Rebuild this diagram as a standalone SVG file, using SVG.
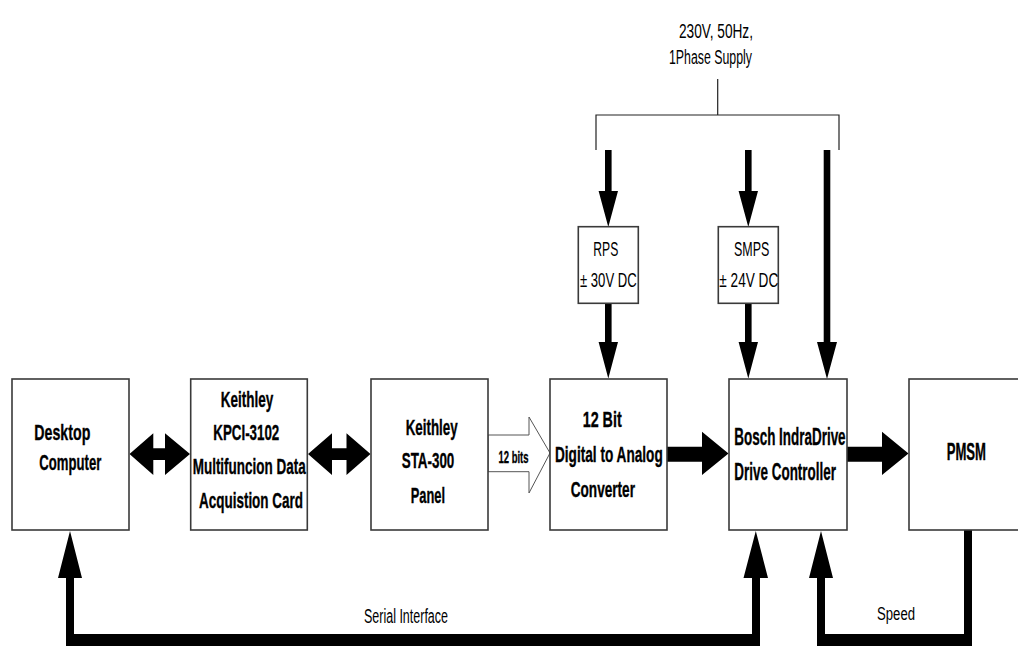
<svg xmlns="http://www.w3.org/2000/svg" width="1018" height="672" viewBox="0 0 1018 672">
  <defs>
    <style>
      .box { fill: #ffffff; stroke: #3a3a3a; stroke-width: 1.6; }
      .lbl { font-family: "Liberation Sans", Arial, sans-serif; font-weight: bold; font-size: 22px; fill: #000; stroke: #000; stroke-width: 0.35; }
      .big { font-size: 23.5px; }
      .thin { font-family: "Liberation Sans", Arial, sans-serif; font-size: 20px; fill: #000; }
      .wire { fill: none; stroke: #222; stroke-width: 1.2; }
      .solid { fill: #000; stroke: none; }
      .hollow { fill: #fff; stroke: #555; stroke-width: 1; }
    </style>
  </defs>
  <rect width="1018" height="672" fill="#ffffff"/>

  <!-- connectors -->
  <g id="connectors">
    <!-- mains supply distribution -->
    <text class="thin" x="679" y="38" textLength="74" lengthAdjust="spacingAndGlyphs">230V, 50Hz,</text>
    <text class="thin" x="669" y="64" textLength="83" lengthAdjust="spacingAndGlyphs">1Phase Supply</text>
    <path class="wire" d="M717.7 79 V115 M596 150 V115 H839 V150"/>

    <!-- supply to RPS and SMPS -->
    <polygon class="solid" points="605,150 611.6,150 611.6,191 618,191 608.3,227 598.6,191 605,191"/>
    <polygon class="solid" points="745,150 751.6,150 751.6,191 758,191 748.3,227 738.6,191 745,191"/>
    <!-- supply straight to drive -->
    <polygon class="solid" points="823.7,150 830.3,150 830.3,342 837,342 827,379 817,342 823.7,342"/>
    <!-- RPS to DAC, SMPS to drive -->
    <polygon class="solid" points="605,303 611.6,303 611.6,342 618,342 608.3,378.5 598.6,342 605,342"/>
    <polygon class="solid" points="745,303 751.6,303 751.6,342 758,342 748.3,378.5 738.6,342 745,342"/>

    <!-- bidirectional links -->
    <polygon class="solid" points="129.5,454 153.3,433.3 153.3,448.3 165,448.3 165,433.3 190,454 165,475 165,460 153.3,460 153.3,475"/>
    <polygon class="solid" points="308,454 332,433.3 332,448.3 346.5,448.3 346.5,433.3 370.5,454 346.5,475 346.5,460 332,460 332,475"/>

    <!-- 12-bit bus -->
    <polygon class="hollow" points="488,435 529,435 529,417 550,453 529,493 529,471.7 488,471.7"/>
    <text class="lbl" x="498.5" y="463" style="font-size:16.5px" textLength="30" lengthAdjust="spacingAndGlyphs">12 bits</text>

    <!-- DAC to drive, drive to motor -->
    <polygon class="solid" points="667,446.7 702,446.7 702,431.7 728.5,453.5 702,475 702,461.7 667,461.7"/>
    <polygon class="solid" points="847,446.7 882,446.7 882,431.7 908.5,453.5 882,475 882,461.7 847,461.7"/>

    <!-- serial interface loop -->
    <polygon class="solid" points="66,646 66,578 58,578 70,531 82,578 74,578 74,634 752,634 752,578 743.5,578 755.8,531 768,578 760,578 760,646"/>
    <text class="thin" x="364" y="623" textLength="84" lengthAdjust="spacingAndGlyphs">Serial Interface</text>

    <!-- speed feedback loop -->
    <polygon class="solid" points="817,646 817,578 809,578 821,531 833,578 825,578 825,634 964,634 964,530 972,530 972,646"/>
    <text class="thin" x="877" y="620" style="font-size:18px" textLength="38" lengthAdjust="spacingAndGlyphs">Speed</text>
  </g>

  <g id="desktop">
    <rect class="box" x="12" y="379" width="117" height="151"/>
    <text class="lbl" x="34.3" y="440" textLength="56" lengthAdjust="spacingAndGlyphs">Desktop</text>
    <text class="lbl" x="39.3" y="470" textLength="62" lengthAdjust="spacingAndGlyphs">Computer</text>
  </g>

  <g id="kpci">
    <rect class="box" x="190.7" y="379" width="116.6" height="151"/>
    <text class="lbl" x="220.7" y="406.7" textLength="52.6" lengthAdjust="spacingAndGlyphs">Keithley</text>
    <text class="lbl" x="213.3" y="440" textLength="66" lengthAdjust="spacingAndGlyphs">KPCI-3102</text>
    <text class="lbl" x="192.7" y="473.5" textLength="113" lengthAdjust="spacingAndGlyphs">Multifuncion Data</text>
    <text class="lbl" x="199" y="507.5" textLength="104" lengthAdjust="spacingAndGlyphs">Acquistion Card</text>
  </g>

  <g id="sta300">
    <rect class="box" x="371" y="379" width="117" height="151"/>
    <text class="lbl" x="405.7" y="435" textLength="52" lengthAdjust="spacingAndGlyphs">Keithley</text>
    <text class="lbl" x="401.7" y="468.3" textLength="52.6" lengthAdjust="spacingAndGlyphs">STA-300</text>
    <text class="lbl" x="410.7" y="503" textLength="34.3" lengthAdjust="spacingAndGlyphs">Panel</text>
  </g>

  <g id="dac">
    <rect class="box" x="550" y="379" width="117" height="151"/>
    <text class="lbl" x="582.7" y="426.7" textLength="39" lengthAdjust="spacingAndGlyphs">12 Bit</text>
    <text class="lbl" x="555" y="461.7" textLength="107.7" lengthAdjust="spacingAndGlyphs">Digital to Analog</text>
    <text class="lbl" x="570.7" y="496.7" textLength="64.3" lengthAdjust="spacingAndGlyphs">Converter</text>
  </g>

  <g id="drive">
    <rect class="box" x="729" y="379" width="118" height="151"/>
    <text class="lbl big" x="734.3" y="445" textLength="111.3" lengthAdjust="spacingAndGlyphs">Bosch IndraDrive</text>
    <text class="lbl big" x="734.3" y="480" textLength="101.7" lengthAdjust="spacingAndGlyphs">Drive Controller</text>
  </g>

  <g id="pmsm">
    <rect class="box" x="909" y="379" width="120" height="151"/>
    <text class="lbl big" x="946.7" y="460" textLength="39.3" lengthAdjust="spacingAndGlyphs">PMSM</text>
  </g>

  <g id="rps">
    <rect class="box" x="578.3" y="226.7" width="60" height="76.6"/>
    <text class="thin" x="593.3" y="256" textLength="25" lengthAdjust="spacingAndGlyphs">RPS</text>
    <text class="thin" x="580" y="286.7" textLength="56.7" lengthAdjust="spacingAndGlyphs">± 30V DC</text>
  </g>

  <g id="smps">
    <rect class="box" x="718.3" y="226.7" width="60" height="76.6"/>
    <text class="thin" x="734" y="256" textLength="35.3" lengthAdjust="spacingAndGlyphs">SMPS</text>
    <text class="thin" x="719.3" y="286.7" textLength="59" lengthAdjust="spacingAndGlyphs">± 24V DC</text>
  </g>
</svg>
